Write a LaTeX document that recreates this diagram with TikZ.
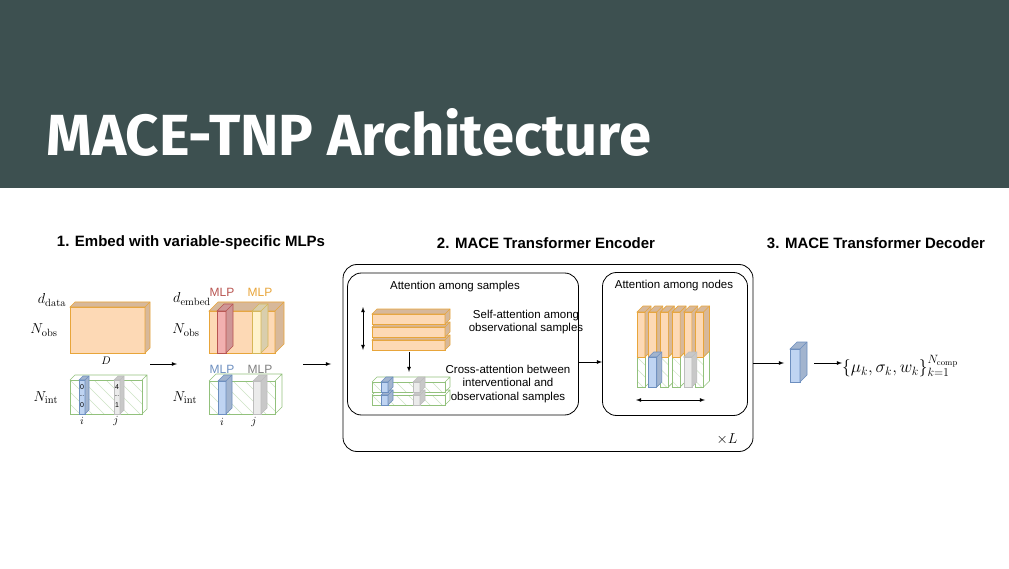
\documentclass[tikz,border=0pt]{standalone}
\usepackage{fontspec}
\setsansfont{Liberation Sans}
\newfontfamily\titlefont{Fira Sans}
\definecolor{hdr}{HTML}{3D5050}
\definecolor{obsF}{HTML}{FDD9B5}
\definecolor{obsD}{HTML}{E8A53A}
\definecolor{intD}{HTML}{92C17C}
\definecolor{bluF}{HTML}{BFD4F2}
\definecolor{bluD}{HTML}{6C8EBF}
\definecolor{grF}{HTML}{EBEBEB}
\definecolor{grD}{HTML}{BDBDBD}
\definecolor{redF}{HTML}{F2B0B0}
\definecolor{redD}{HTML}{B85450}
\definecolor{yelF}{HTML}{FFF2CC}
\definecolor{yelD}{HTML}{D6B656}
% \cube{x}{ytop}{w}{h}{depth}{fill}{draw}
\newcommand\cube[7]{%
 \filldraw[fill=#6,draw=#7,line width=0.6pt] (#1,#2) rectangle ++(#3,#4);
 \filldraw[fill=#6!85!black,draw=#7,line width=0.6pt] (#1,#2) -- ++(#5,-#5) -- ++(#3,0) -- ++(0,#4) -- ++(-#5,#5) -- ++(0,-#4) -- cycle;
 \draw[#7,line width=0.6pt] (#1+#3,#2) -- ++(#5,-#5);}
\newcommand\hcube[5]{%
 \fill[white] (#1,#2) rectangle ++(#3,#4);
 \begin{scope}
 \clip (#1,#2) rectangle ++(#3,#4);
 \foreach \t in {-60,-48,...,140}{\draw[intD!45,line width=0.5pt] (#1+\t,#2) -- ++(60,60);}
 \end{scope}
 \draw[intD,line width=0.6pt] (#1,#2) rectangle ++(#3,#4);
 \draw[intD,line width=0.6pt] (#1,#2) -- ++(#5,-#5) -- ++(#3,0) -- ++(0,#4) -- ++(-#5,#5) (#1+#3,#2) -- ++(#5,-#5);}
\tikzset{hd/.style={font=\sffamily\bfseries\fontsize{15}{17}\selectfont},
 tx/.style={font=\sffamily\fontsize{11.5}{13.5}\selectfont,align=center},
 mlp/.style={font=\sffamily\fontsize{12}{13}\selectfont},
 mt/.style={font=\fontsize{15}{17}\selectfont},
 ar/.style={-latex,line width=0.8pt},
 rbox/.style={draw,rounded corners=14pt,line width=0.8pt}}
\begin{document}
\begin{tikzpicture}[x=1pt,y=-1pt]
\useasboundingbox (0,0) rectangle (1009,569);
\fill[hdr] (0,0) rectangle (1009,188);
\node[anchor=west,text=white,font=\titlefont\bfseries\fontsize{58}{66}\selectfont] (title) at (43,132) {MACE-TNP Architecture};
\node[hd] (h1) at (191,243) {1. Embed with variable-specific MLPs};
\node[hd] (h2) at (546,243) {2. MACE Transformer Encoder};
\node[hd] (h3) at (876,243) {3. MACE Transformer Decoder};
% left boxes
\cube{70}{307}{75}{46}{5}{obsF}{obsD}
\hcube{70}{380}{72}{34}{5}
\cube{79}{380}{6}{34}{4}{bluF}{bluD}
\cube{114}{380}{6}{34}{4}{grF}{grD}
\node[font=\sffamily\fontsize{7}{7}\selectfont] (b0) at (82,387) {0};
\node[font=\sffamily\fontsize{6}{6}\selectfont] (bd) at (82,396) {...};
\node[font=\sffamily\fontsize{7}{7}\selectfont] (b1) at (82,405) {0};
\node[font=\sffamily\fontsize{7}{7}\selectfont] (g0) at (117,387) {4};
\node[font=\sffamily\fontsize{6}{6}\selectfont] (gd) at (117,396) {...};
\node[font=\sffamily\fontsize{7}{7}\selectfont] (g1) at (117,405) {1};
\node[mt] (dd) at (52,300) {$d_{\mathrm{data}}$};
\node[mt] (no1) at (44,330) {$N_{\mathrm{obs}}$};
\node[mt] (D) at (106,361) {$\scriptstyle D$};
\node[mt] (ni1) at (46,398) {$N_{\mathrm{int}}$};
\node[mt] (i1) at (82,421) {$\scriptstyle i$};
\node[mt] (j1) at (116,421) {$\scriptstyle j$};
\coordinate (a1s) at (150,364); \coordinate (a1e) at (177,364);
\draw[ar] (a1s) -- (a1e);
% middle boxes
\cube{209}{311}{66}{42}{9}{obsF}{obsD}
\cube{217}{311}{9}{42}{7}{redF}{redD}
\cube{252}{311}{9}{42}{7}{yelF}{yelD}
\hcube{209}{381}{66}{33}{7}
\cube{218}{381}{8}{33}{6}{bluF}{bluD}
\cube{253}{381}{8}{33}{6}{grF}{grD}
\node[mlp,text=redD] (m1) at (222,292) {MLP};
\node[mlp,text=obsD] (m2) at (260,292) {MLP};
\node[mlp,text=bluD] (m3) at (222,369) {MLP};
\node[mlp,text=gray] (m4) at (260,369) {MLP};
\node[mt] (de) at (192,299) {$d_{\mathrm{embed}}$};
\node[mt] (no2) at (186,330) {$N_{\mathrm{obs}}$};
\node[mt] (ni2) at (185,398) {$N_{\mathrm{int}}$};
\node[mt] (i2) at (222,422) {$\scriptstyle i$};
\node[mt] (j2) at (254,422) {$\scriptstyle j$};
\coordinate (a2s) at (303,364); \coordinate (a2e) at (331,364);
\draw[ar] (a2s) -- (a2e);
% encoder
\node[rbox,minimum width=410pt,minimum height=187pt] (enc) at (548,358) {};
\node[rbox,minimum width=231pt,minimum height=142pt] (sam) at (463,344) {};
\node[rbox,minimum width=145pt,minimum height=143pt] (nod) at (675,344) {};
\node[tx] (ts) at (455,287) {Attention among samples};
\node[tx] (tn) at (674,286) {Attention among nodes};
\cube{372}{340}{73}{10}{5}{obsF}{obsD}
\cube{372}{327}{73}{10}{5}{obsF}{obsD}
\cube{372}{314}{73}{10}{5}{obsF}{obsD}
\coordinate (da1) at (363,307); \coordinate (da2) at (363,350);
\draw[latex-latex,line width=0.8pt] (da1) -- (da2);
\node[tx] (sa) at (526,322) {Self-attention among\\observational samples};
\coordinate (dn1) at (409,352); \coordinate (dn2) at (409,372);
\draw[ar] (dn1) -- (dn2);
\hcube{372}{395}{73}{10}{5}
\hcube{372}{382}{73}{10}{5}
\cube{381}{395}{7}{10}{5}{bluF}{bluD}
\cube{381}{382}{7}{10}{5}{bluF}{bluD}
\cube{413}{395}{7}{10}{5}{grF}{grD}
\cube{413}{382}{7}{10}{5}{grF}{grD}
\node[tx] (ca) at (508,384) {Cross-attention between\\interventional and\\observational samples};
\draw[ar] (sam.east |- 0,362) -- (nod.west |- 0,362);
\foreach \k in {0,...,5}{
 \pgfmathsetmacro\xx{637+11.7*\k}
 \hcube{\xx}{357}{8}{30}{6}
 \cube{\xx}{312}{8}{45}{6}{obsF}{obsD}
}
\cube{648.7}{357}{8}{30}{5}{bluF}{bluD}
\cube{683.8}{357}{8}{30}{5}{grF}{grD}
\coordinate (ha1) at (636,400); \coordinate (ha2) at (705,400);
\draw[latex-latex,line width=0.8pt] (ha1) -- (ha2);
\node[mt] (xL) at (727,439) {$\times L$};
% decoder
\draw[ar] (enc.east |- 0,363) -- (784,363);
\cube{790}{349}{10}{33}{7}{bluF}{bluD}
\coordinate (o1) at (814,363); \coordinate (o2) at (842,363);
\draw[ar] (o1) -- (o2);
\node[anchor=west,inner sep=0pt,font=\fontsize{17}{19}\selectfont] (out) at (842,366) {$\{\mu_k,\sigma_k,w_k\}_{k=1}^{N_{\mathrm{comp}}}$};
\end{tikzpicture}
\end{document}
